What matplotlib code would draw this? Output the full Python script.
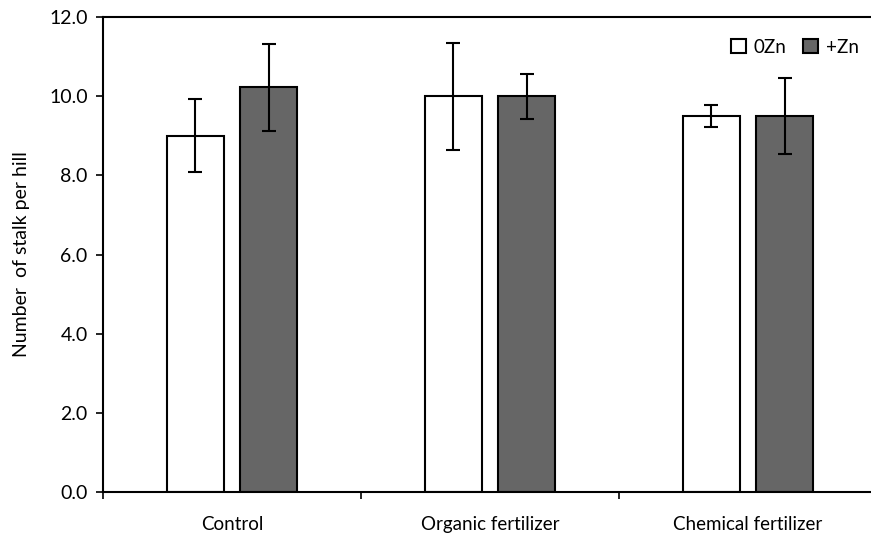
"""bar chart: number of stalk per hill, 0Zn vs +Zn"""
import numpy as np
import matplotlib
matplotlib.use("Agg")
import matplotlib.pyplot as plt

plt.rcParams['font.family'] = ['Lato', 'DejaVu Sans']

categories = ["Control", "Organic fertilizer", "Chemical fertilizer"]
zn0 = [9.0, 10.0, 9.5]
zn0_err = [0.92, 1.35, 0.27]
znp = [10.22, 10.0, 9.5]
znp_err = [1.1, 0.57, 0.95]
yticks = [0.0, 2.0, 4.0, 6.0, 8.0, 10.0, 12.0]

fig = plt.figure(figsize=(8.71, 5.34), dpi=100)
ax = fig.add_axes([103 / 871, 42 / 534, 774 / 871, 475 / 534])

x = np.arange(len(categories)) + 0.5
w = 0.222
ax.bar(x - 0.142, zn0, w, color="white", edgecolor="black", linewidth=1.5,
       label="0Zn", yerr=zn0_err, capsize=5,
       error_kw=dict(elinewidth=1.5, capthick=1.5, ecolor="black"))
ax.bar(x + 0.142, znp, w, color="#666666", edgecolor="black", linewidth=1.5,
       label="+Zn", yerr=znp_err, capsize=5,
       error_kw=dict(elinewidth=1.5, capthick=1.5, ecolor="black"))

ax.set_xlim(0, 3)
ax.set_ylim(0, 12)
ax.set_yticks(yticks)
ax.set_yticklabels([f"{v:.1f}" for v in yticks], fontsize=14)
ax.set_xticks([0, 1, 2, 3])
ax.set_xticklabels([])
ax.set_xticks(x, minor=True)
ax.set_xticklabels(categories, minor=True, fontsize=13.5)
ax.tick_params(axis="x", which="minor", length=0, pad=17)
ax.tick_params(axis="x", which="major", length=5, width=1.2, direction="out")
ax.tick_params(axis="y", length=5, width=1.2, direction="out", pad=6)
ax.spines["right"].set_visible(False)
for s in ["left", "bottom", "top"]:
    ax.spines[s].set_linewidth(1.5)

ax.set_ylabel("Number  of stalk per hill", fontsize=14, labelpad=14)

ax.legend(loc="upper right", bbox_to_anchor=(0.998, 0.99), ncol=2, frameon=False,
          fontsize=13.5, handlelength=0.8, handleheight=0.8, handletextpad=0.4,
          columnspacing=0.9)

fig.savefig("out.png", dpi=100)
